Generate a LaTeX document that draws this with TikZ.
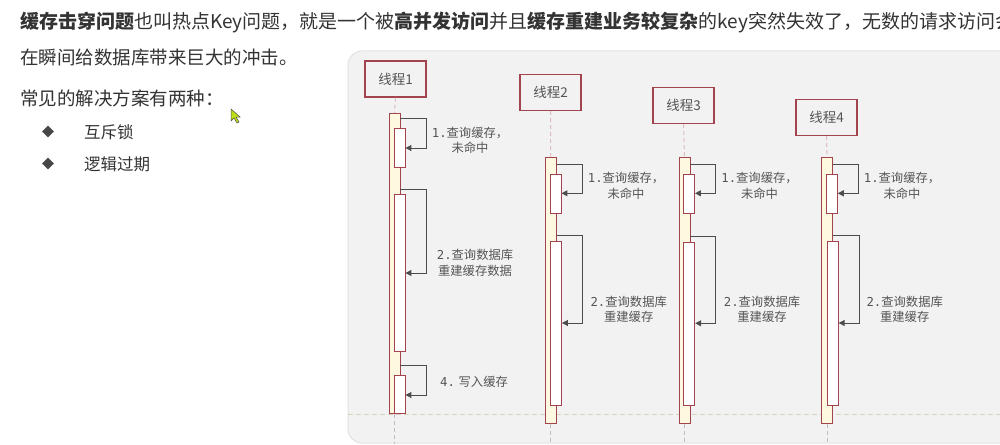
\documentclass[tikz,border=0pt]{standalone}
\usepackage{fontspec}
\setmainfont{Noto Sans CJK SC}
\newfontfamily\monof{DejaVu Sans Mono}
\usetikzlibrary{shapes.geometric,arrows.meta}
\definecolor{txt}{HTML}{333333}
\definecolor{lbl}{HTML}{555555}
\definecolor{panelbg}{HTML}{F2F2F2}
\definecolor{panelline}{HTML}{E2E2E2}
\definecolor{boxred}{HTML}{A3434E}
\definecolor{barfill}{HTML}{FFF8E1}
\definecolor{lifeup}{HTML}{DDBDC1}
\definecolor{lifedown}{HTML}{BDBDBD}
\definecolor{sep}{HTML}{D8D0BA}
\tikzset{
  body/.style={anchor=west, inner sep=0pt, text=txt, font=\fontsize{18.5}{22}\selectfont},
  bodysm/.style={anchor=west, inner sep=0pt, text=txt, font=\fontsize{16.5}{20}\selectfont},
  bulletmark/.style={diamond, fill=txt!90, inner sep=0pt, minimum width=12pt, minimum height=12pt},
  thread/.style={draw=boxred, line width=1.1pt, fill=panelbg, text=lbl, minimum width=61pt, minimum height=36pt, inner sep=0pt, font=\fontsize{13.5}{15}\selectfont},
  obar/.style={draw=boxred, line width=0.9pt, fill=barfill, minimum width=11pt, anchor=north, inner sep=0pt},
  ibar/.style={draw=boxred, line width=0.9pt, fill=white, minimum width=11pt, anchor=north, inner sep=0pt},
  lifeu/.style={draw=lifeup, line width=1pt, dash pattern=on 4pt off 3pt},
  lifed/.style={draw=lifedown, line width=1pt, dash pattern=on 4pt off 3pt},
  msg/.style={draw=lbl!90!black, line width=1pt, -{Triangle[length=6pt,width=6pt]}},
  note/.style={text=lbl, align=center, inner sep=0pt, font=\fontsize{12.3}{15.5}\selectfont},
}
\begin{document}
\begin{tikzpicture}[x=1pt,y=-1pt]
\useasboundingbox (0,0) rectangle (1000,444);
\fill[white] (0,0) rectangle (1000,444);
% panel
\draw[fill=panelbg, draw=panelline, line width=1pt, rounded corners=14pt] (348,51) rectangle (1060,443);
% text
\node[body, font=\fontsize{19}{22}\selectfont] (t1) at (20,22) {\textbf{缓存击穿问题}也叫热点Key问题，就是一个被\textbf{高并发访问}并且\textbf{缓存重建业务较复杂}的key突然失效了，无数的请求访问会};
\node[body] (t2) at (20,57) {在瞬间给数据库带来巨大的冲击。};
\node[body] (t3) at (20,98) {常见的解决方案有两种：};
\node[bulletmark] (d1) at (48,131.5) {};
\node[bodysm] (b1) at (84,132) {互斥锁};
\node[bulletmark] (d2) at (48,163.5) {};
\node[bodysm] (b2) at (84,164) {逻辑过期};
% cursor
\draw[fill=yellow!75!green, draw=black!70, line width=0.5pt] (231,109) -- (231,121) -- (234,118) -- (237,123) -- (239,122) -- (236,117) -- (240,117) -- cycle;
% separator
\draw[draw=sep, line width=0.9pt, dash pattern=on 5pt off 3pt] (348,414) -- (1000,414);
% thread boxes
\node[thread] (th1) at (395.5,79) {线程1};
\node[thread] (th2) at (550.5,92.5) {线程2};
\node[thread] (th3) at (683.5,105.5) {线程3};
\node[thread] (th4) at (826.5,117.5) {线程4};
% bars
\node[obar, minimum height=300pt] (o1) at (394.5,113) {};
\node[obar, minimum height=266pt] (o2) at (550.7,156.7) {};
\node[obar, minimum height=266pt] (o3) at (684.5,156.7) {};
\node[obar, minimum height=266pt] (o4) at (827,157) {};
% lifelines
\draw[lifeu] (th1.south) -- (o1.north);
\draw[lifeu] (th2.south) -- (o2.north);
\draw[lifeu] (th3.south) -- (o3.north);
\draw[lifeu] (th4.south) -- (o4.north);
\coordinate (e1) at (394.5,444);
\coordinate (e2) at (550.7,444);
\coordinate (e3) at (684.5,444);
\coordinate (e4) at (827,444);
\draw[lifed] (o1.south) -- (e1);
\draw[lifed] (o2.south) -- (e2);
\draw[lifed] (o3.south) -- (e3);
\draw[lifed] (o4.south) -- (e4);
% inner bars
\node[ibar, minimum height=39pt] (i1a) at (399.5,128) {};
\node[ibar, minimum height=157pt] (i1b) at (399.5,194) {};
\node[ibar, minimum height=38pt] (i1c) at (399.5,375) {};
\node[ibar, minimum height=38.7pt] (i2a) at (555.5,174) {};
\node[ibar, minimum height=164.3pt] (i2b) at (556,240.7) {};
\node[ibar, minimum height=38.7pt] (i3a) at (689,174) {};
\node[ibar, minimum height=162.7pt] (i3b) at (689.2,242.3) {};
\node[ibar, minimum height=38.7pt] (i4a) at (831.8,174) {};
\node[ibar, minimum height=164.3pt] (i4b) at (832.7,240.7) {};
% self messages
\draw[msg] (o1.east |- 0,118) -| (426,148) -- (i1a.east |- 0,148);
\draw[msg] (o1.east |- 0,189) -| (426,273) -- (i1b.east |- 0,273);
\draw[msg] (o1.east |- 0,365) -| (426,395) -- (i1c.east |- 0,395);
\draw[msg] (o2.east |- 0,164) -| (582,193.3) -- (i2a.east |- 0,193.3);
\draw[msg] (o2.east |- 0,235) -| (582.5,323) -- (i2b.east |- 0,323);
\draw[msg] (o3.east |- 0,164) -| (715.5,193.3) -- (i3a.east |- 0,193.3);
\draw[msg] (o3.east |- 0,236) -| (715.5,323.3) -- (i3b.east |- 0,323.3);
\draw[msg] (o4.east |- 0,164) -| (858.7,193.3) -- (i4a.east |- 0,193.3);
\draw[msg] (o4.east |- 0,235.3) -| (859.3,323) -- (i4b.east |- 0,323);
% labels
\node[note] (n1a) at (470,140.5) {{\monof 1.}查询缓存，\\未命中};
\node[note] (n1b) at (475,263) {{\monof 2.}查询数据库\\重建缓存数据};
\node[note, anchor=west] (n1c) at (440,382) {{\monof 4.} 写入缓存};
\node[note] (n2a) at (626,186) {{\monof 1.}查询缓存，\\未命中};
\node[note] (n2b) at (628.7,309.2) {{\monof 2.}查询数据库\\重建缓存};
\node[note] (n3a) at (759.5,186) {{\monof 1.}查询缓存，\\未命中};
\node[note] (n3b) at (762,309.2) {{\monof 2.}查询数据库\\重建缓存};
\node[note] (n4a) at (902,186) {{\monof 1.}查询缓存，\\未命中};
\node[note] (n4b) at (904.7,309.2) {{\monof 2.}查询数据库\\重建缓存};
\end{tikzpicture}
\end{document}
